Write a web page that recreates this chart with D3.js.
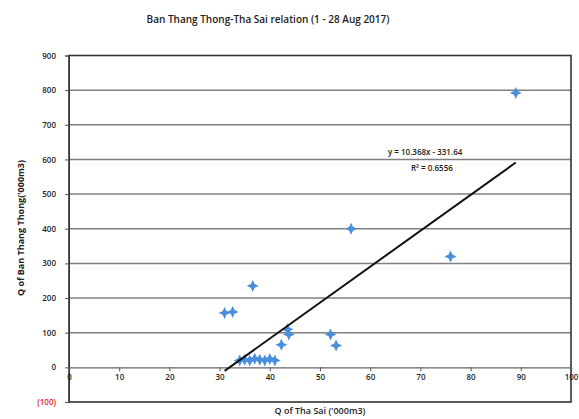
<!DOCTYPE html>
<html><head><meta charset="utf-8">
<script src="https://cdn.jsdelivr.net/npm/d3@7"></script>
<style>
body{margin:0;background:#fff;}
text{font-family:"Open Sans","DejaVu Sans",sans-serif;}
</style></head>
<body><svg id="c" width="579" height="419"></svg>
<script>
const title = "Ban Thang Thong-Tha Sai relation (1 - 28 Aug 2017)";
const xLabel = "Q of Tha Sai ('000m3)";
const yLabel = "Q of Ban Thang Thong('000m3)";
const thaSai = [89.0, 56.2, 76.0, 36.6, 31.0, 32.6, 43.5, 43.8, 42.3, 52.1, 53.2, 34.0, 35.0, 36.0, 37.0, 38.0, 39.0, 40.0, 41.0];
const banThangThong = [792, 400, 320, 235, 157, 160, 110, 95, 65, 95, 63, 20, 22, 20, 25, 22, 20, 24, 20];
const slope = 10.368, intercept = -331.64;
const eqText = "y = 10.368x - 331.64";
const r2Text = "R² = 0.6556";
const xTicks = [0,10,20,30,40,50,60,70,80,90,100];
const yTicks = [-100,0,100,200,300,400,500,600,700,800,900];

const svg = d3.select("#c");
const L=69, R=571, T=55.5, B=402;
const x = d3.scaleLinear().domain([0,100]).range([L,R]);
const y = d3.scaleLinear().domain([-100,900]).range([B,T]);

svg.append("text").attr("x",268).attr("y",23).attr("text-anchor","middle")
  .attr("font-size",10).attr("font-weight",600).attr("fill","#222").text(title);

// gridlines
svg.append("g").selectAll("line").data(yTicks.filter(v=>v>-100&&v<900&&v!==0)).join("line")
  .attr("x1",L).attr("x2",R).attr("y1",d=>y(d)).attr("y2",d=>y(d))
  .attr("stroke","#808080").attr("stroke-width",1.5);

// plot border
svg.append("rect").attr("x",L).attr("y",T).attr("width",R-L).attr("height",B-T)
  .attr("fill","none").attr("stroke","#333").attr("stroke-width",1.6);

// y axis
const yAx = svg.append("g").attr("transform",`translate(${L},0)`)
  .call(d3.axisLeft(y).tickValues(yTicks).tickSize(4).tickFormat(d=>d<0?`(${-d})`:d));
yAx.select(".domain").attr("stroke","#333");
yAx.selectAll("line").attr("stroke","#555");
yAx.selectAll("text").attr("font-size",8).attr("font-weight",600).attr("fill",d=>d<0?"#e02020":"#222").attr("dx",-6);

// x axis at y=0
const xAx = svg.append("g").attr("transform",`translate(0,${y(0)})`)
  .call(d3.axisBottom(x).tickValues(xTicks).tickSize(4));
xAx.select(".domain").attr("stroke","#666").attr("stroke-width",1.4);
xAx.selectAll("line").attr("stroke","#555");
xAx.selectAll("text").attr("font-size",8).attr("font-weight",600).attr("fill","#222").attr("dy",6);

// axis titles
svg.append("text").attr("x",320).attr("y",414).attr("text-anchor","middle")
  .attr("font-size",9).attr("font-weight",600).attr("fill","#222").text(xLabel);
svg.append("text").attr("transform","translate(24,228) rotate(-90)").attr("text-anchor","middle")
  .attr("font-size",9).attr("font-weight","bold").attr("fill","#222").text(yLabel);

// markers: 4-point star
const star = {draw(ctx,size){const r=Math.sqrt(size)*0.9, w=r*0.32;
  ctx.moveTo(0,-r);ctx.lineTo(w,-w);ctx.lineTo(r,0);ctx.lineTo(w,w);
  ctx.lineTo(0,r);ctx.lineTo(-w,w);ctx.lineTo(-r,0);ctx.lineTo(-w,-w);ctx.closePath();}};
svg.append("g").selectAll("path").data(thaSai.map((v,i)=>[v,banThangThong[i]])).join("path")
  .attr("transform",d=>`translate(${x(d[0])},${y(d[1])})`)
  .attr("d",d3.symbol().type(star).size(44)).attr("fill","#4a8ede");

// trendline
const xmin=d3.min(thaSai), xmax=d3.max(thaSai);
svg.append("line").attr("x1",x(xmin)).attr("y1",y(slope*xmin+intercept))
  .attr("x2",x(xmax)).attr("y2",y(slope*xmax+intercept))
  .attr("stroke","#111").attr("stroke-width",2);

svg.append("text").attr("x",388).attr("y",155).attr("font-size",8).attr("font-weight",600).attr("fill","#222").text(eqText);
svg.append("text").attr("x",411).attr("y",171).attr("font-size",8).attr("font-weight",600).attr("fill","#222").text(r2Text);
</script></body></html>
